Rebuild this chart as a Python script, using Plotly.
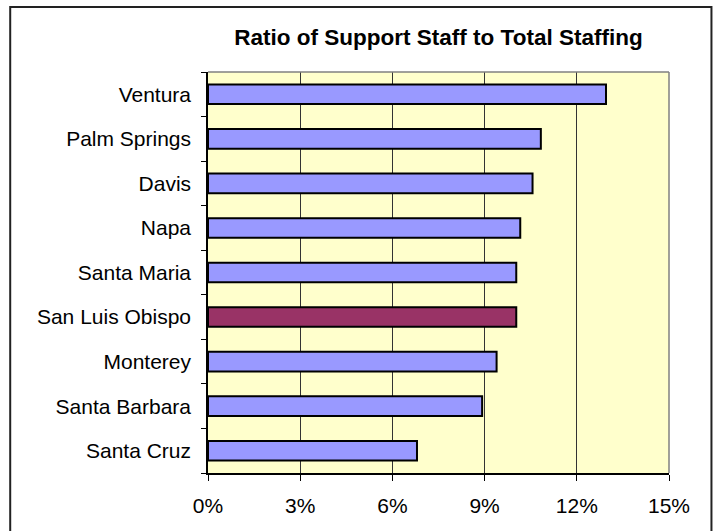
import plotly.graph_objects as go

# Ratio of support staff to total staffing, listed bottom to top
cities = ["Santa Cruz", "Santa Barbara", "Monterey", "San Luis Obispo",
          "Santa Maria", "Napa", "Davis", "Palm Springs", "Ventura"]
ratios = [0.0680, 0.0892, 0.0939, 0.1003, 0.1003, 0.1016, 0.1056, 0.1083, 0.1295]
highlight = "San Luis Obispo"

x_ticks = [0, 0.03, 0.06, 0.09, 0.12, 0.15]
x_tick_labels = ["0%", "3%", "6%", "9%", "12%", "15%"]

W, H = 715, 531
ML, MR, MT, MB = 208, 45.5, 72, 58

bar_colors = ["#993366" if c == highlight else "#9999FF" for c in cities]

fig = go.Figure(go.Bar(
    x=ratios,
    y=cities,
    orientation="h",
    marker=dict(color=bar_colors, line=dict(color="black", width=2)),
    hoverinfo="x+y",
))

pw = W - ML - MR
ph = H - MT - MB


def px_to_paper_x(px):
    return (px - ML) / pw


def px_to_paper_y(py):
    return (H - MB - py) / ph


fig.update_layout(
    width=W,
    height=H,
    margin=dict(l=ML, r=MR, t=MT, b=MB, pad=0),
    paper_bgcolor="white",
    plot_bgcolor="#FFFFCC",
    bargap=0.56,
    showlegend=False,
    font=dict(family="Liberation Sans, Arial, sans-serif", size=21, color="black"),
    title=dict(
        text="<b>Ratio of Support Staff to Total Staffing</b>",
        x=0.5, xanchor="center", xref="paper",
        y=1 - 37 / H, yanchor="middle", yref="container",
        font=dict(size=22.5, color="black"),
    ),
    xaxis=dict(
        range=[0, 0.15],
        tickvals=x_ticks,
        ticktext=x_tick_labels,
        showgrid=True,
        gridcolor="#333333",
        gridwidth=1,
        zeroline=False,
        showline=True,
        linecolor="black",
        linewidth=1.5,
        ticks="outside",
        ticklen=6,
        tickcolor="black",
        tickwidth=1,
        tickfont=dict(size=21),
        ticklabelstandoff=7,
        fixedrange=True,
    ),
    yaxis=dict(
        type="category",
        categoryorder="array",
        categoryarray=cities,
        tickson="boundaries",
        ticks="outside",
        ticklen=5,
        tickcolor="black",
        tickwidth=1,
        showgrid=False,
        showline=True,
        linecolor="black",
        linewidth=1.5,
        tickfont=dict(size=21),
        ticklabelstandoff=11,
        fixedrange=True,
    ),
    shapes=[
        # grey plot-area border along the top and right edges
        dict(type="line", xref="paper", yref="paper", x0=0, x1=1, y0=1, y1=1,
             line=dict(color="#808080", width=1.5), layer="above"),
        dict(type="line", xref="paper", yref="paper", x0=1, x1=1, y0=0, y1=1,
             line=dict(color="#808080", width=1.5), layer="above"),
        # outer chart frame
        dict(type="rect", xref="paper", yref="paper",
             x0=px_to_paper_x(10), x1=px_to_paper_x(712),
             y0=px_to_paper_y(540), y1=px_to_paper_y(7),
             line=dict(color="#222222", width=2), layer="below"),
    ],
)

fig.write_html("out.html")
